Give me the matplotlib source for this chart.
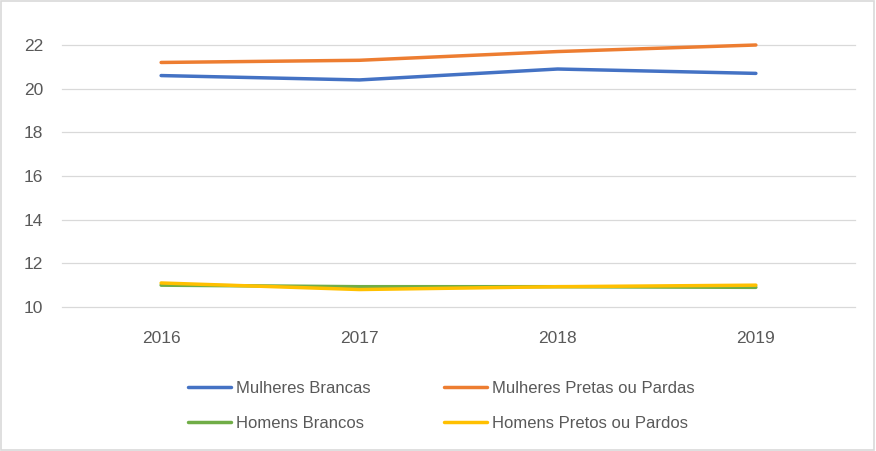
import matplotlib
matplotlib.use("Agg")
import matplotlib.pyplot as plt

years = ["2016", "2017", "2018", "2019"]
mulheres_brancas = [20.6, 20.4, 20.9, 20.7]
mulheres_pretas = [21.2, 21.3, 21.7, 22.0]
homens_brancos = [11.0, 10.93, 10.93, 10.9]
homens_pretos = [11.1, 10.8, 10.93, 11.0]

series = [
    ("Mulheres Brancas", mulheres_brancas, "#4472C4"),
    ("Mulheres Pretas ou Pardas", mulheres_pretas, "#ED7D31"),
    ("Homens Brancos", homens_brancos, "#70AD47"),
    ("Homens Pretos ou Pardos", homens_pretos, "#FFC000"),
]

plt.rcParams['font.family'] = ['Liberation Sans', 'DejaVu Sans']
fig = plt.figure(figsize=(8.76, 4.51), dpi=100)
fig.patch.set_facecolor("white")
ax = fig.add_axes([62/876, 1-307/451, (855-62)/876, (307-45)/451])

x = list(range(len(years)))
handles = {}
for name, vals, col in series:
    h, = ax.plot(x, vals, color=col, lw=2.5, solid_capstyle='round',
                 solid_joinstyle='round', label=name, clip_on=False, zorder=3)
    handles[name] = h

ax.set_xlim(-0.5, len(years) - 0.5)
ax.set_ylim(10, 22)
ax.set_yticks([10, 12, 14, 16, 18, 20, 22])
ax.set_xticks(x)
ax.set_xticklabels(years)
ax.grid(axis='y', color='#D9D9D9', lw=0.9)
for gl in ax.get_ygridlines():
    gl.set_clip_on(False)
ax.set_axisbelow(True)
for s in ax.spines.values():
    s.set_visible(False)
ax.tick_params(axis='both', length=0, labelsize=12.5, colors='#595959')
ax.tick_params(axis='y', pad=13.5)
ax.tick_params(axis='x', pad=17)

order = ["Mulheres Brancas", "Homens Brancos", "Mulheres Pretas ou Pardas", "Homens Pretos ou Pardos"]
leg = fig.legend([handles[n] for n in order], order, ncol=2, loc='center',
                 bbox_to_anchor=(441/876, 1-406/451), frameon=False,
                 fontsize=12, labelcolor='#595959', handlelength=2.58,
                 handletextpad=0.3, columnspacing=4.4, labelspacing=1.2,
                 borderpad=0, borderaxespad=0)

border = plt.Rectangle((0.001, 0.002), 0.997, 0.995, transform=fig.transFigure,
                       fill=False, edgecolor='#D9D9D9', lw=1.2)
fig.patches.append(border)

fig.savefig("out.png", dpi=100, facecolor="white")
